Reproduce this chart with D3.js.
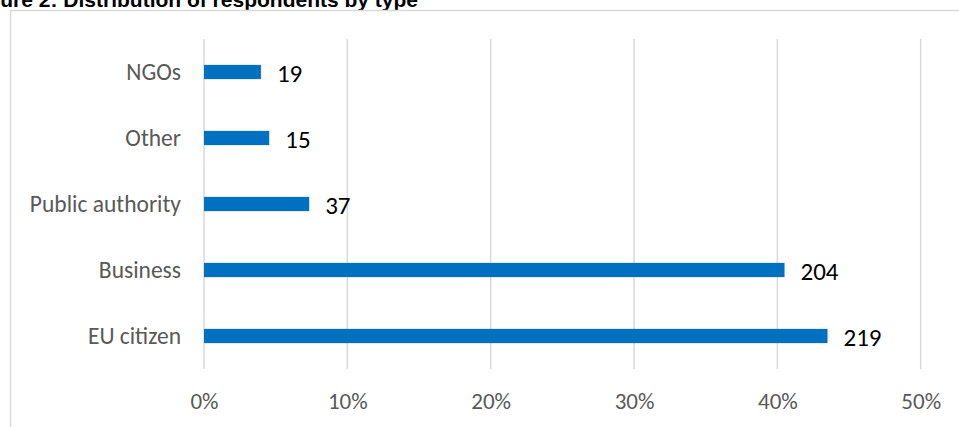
<!DOCTYPE html>
<html>
<head>
<meta charset="utf-8">
<script src="https://cdn.jsdelivr.net/npm/d3@7"></script>
<style>
  html, body { margin: 0; padding: 0; background: #fff; overflow: hidden; }
  svg { display: block; }
</style>
</head>
<body>
<svg id="chart" width="959" height="427"></svg>
<script>
// Respondent types, top to bottom
const categories = ["NGOs", "Other", "Public authority", "Business", "EU citizen"];
// Share of respondents (%) per type
const shares = [3.97, 4.55, 7.34, 40.5, 43.5];
// Number of respondents per type (data labels)
const counts = [19, 15, 37, 204, 219];
// Axis ticks (%)
const tickValues = [0, 10, 20, 30, 40, 50];

const svg = d3.select("#chart");
const W = 959, H = 427;
const margin = { left: 204, right: 38.3, top: 39, bottom: 58 };

const catFont = "Carlito, Calibri, Lato, 'Open Sans', sans-serif";

// Caption above the chart frame
svg.append("text")
  .attr("x", 418)
  .attr("y", 6.5)
  .attr("text-anchor", "end")
  .attr("font-family", "'Liberation Sans', Arial, sans-serif")
  .attr("font-weight", "bold")
  .attr("font-size", 21)
  .attr("fill", "#000")
  .text("Figure 2: Distribution of respondents by type");

// Chart frame
svg.append("rect")
  .attr("x", 10.5)
  .attr("y", 10.5)
  .attr("width", 960)
  .attr("height", 430)
  .attr("fill", "none")
  .attr("stroke", "#d9d9d9")
  .attr("stroke-width", 1.5);

const x = d3.scaleLinear()
  .domain([0, 50])
  .range([margin.left, W - margin.right]);

const y = d3.scaleBand()
  .domain(categories)
  .range([margin.top, H - margin.bottom])
  .paddingInner(0.784)
  .paddingOuter(0.392);

// Vertical gridlines
svg.append("g")
  .selectAll("line")
  .data(tickValues)
  .join("line")
  .attr("x1", d => x(d))
  .attr("x2", d => x(d))
  .attr("y1", margin.top)
  .attr("y2", H - margin.bottom)
  .attr("stroke", "#d9d9d9")
  .attr("stroke-width", 1.5);

// X axis tick labels
const xAxis = d3.axisBottom(x)
  .tickValues(tickValues)
  .tickFormat(d => d + "%")
  .tickSize(0)
  .tickPadding(0);

const gx = svg.append("g")
  .attr("transform", `translate(0,${H - margin.bottom})`)
  .call(xAxis);
gx.select(".domain").remove();
gx.selectAll("text")
  .attr("dy", null)
  .attr("y", 40)
  .attr("font-family", catFont)
  .attr("font-size", 23)
  .attr("fill", "#595959");

// Y axis category labels
const yAxis = d3.axisLeft(y).tickSize(0).tickPadding(23);
const gy = svg.append("g")
  .attr("transform", `translate(${margin.left},0)`)
  .call(yAxis);
gy.select(".domain").remove();
gy.selectAll("text")
  .attr("font-family", catFont)
  .attr("font-size", 23.5)
  .attr("fill", "#595959")
  .attr("dy", "0.35em");

// Bars
svg.append("g")
  .selectAll("rect")
  .data(categories)
  .join("rect")
  .attr("x", x(0))
  .attr("y", (d) => y(d))
  .attr("width", (d, i) => x(shares[i]) - x(0))
  .attr("height", y.bandwidth())
  .attr("fill", "#0070c0");

// Data labels (respondent counts)
svg.append("g")
  .selectAll("text")
  .data(categories)
  .join("text")
  .attr("x", (d, i) => x(shares[i]) + 16)
  .attr("y", d => y(d) + y.bandwidth() / 2 + 1)
  .attr("dy", "0.35em")
  .attr("font-family", catFont)
  .attr("font-size", 25)
  .attr("fill", "#000")
  .text((d, i) => counts[i]);
</script>
</body>
</html>
